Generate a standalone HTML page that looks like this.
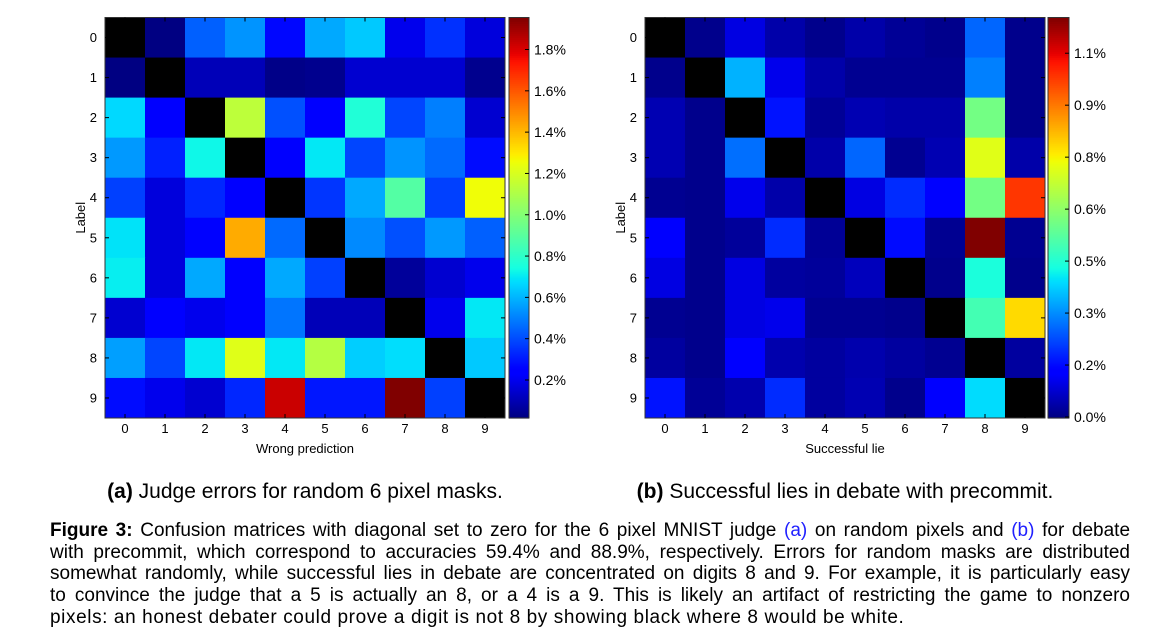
<!DOCTYPE html>
<html><head><meta charset="utf-8">
<style>
html,body{margin:0;padding:0;background:#fff;}
body{width:1158px;height:637px;overflow:hidden;position:relative;font-family:"Liberation Sans","DejaVu Sans",sans-serif;}
svg{position:absolute;left:0;top:0;}
#caption{position:absolute;left:50px;top:520px;width:1080px;font-size:19px;line-height:21.7px;color:#000;}
#caption .ln{white-space:nowrap;text-align:justify;text-align-last:justify;}
#caption .last{text-align:left;text-align-last:left;letter-spacing:0.6px;}
</style></head>
<body>
<svg id="fig" width="1158" height="637"></svg>
<div id="caption">
<div class="ln"><b>Figure 3:</b> Confusion matrices with diagonal set to zero for the 6 pixel MNIST judge <span style="color:#2020ff">(a)</span> on random pixels and <span style="color:#2020ff">(b)</span> for debate</div>
<div class="ln">with precommit, which correspond to accuracies 59.4% and 88.9%, respectively. Errors for random masks are distributed</div>
<div class="ln">somewhat randomly, while successful lies in debate are concentrated on digits 8 and 9. For example, it is particularly easy</div>
<div class="ln">to convince the judge that a 5 is actually an 8, or a 4 is a 9. This is likely an artifact of restricting the game to nonzero</div>
<div class="ln last">pixels: an honest debater could prove a digit is not 8 by showing black where 8 would be white.</div>
</div>
<script>
const digits = ['0','1','2','3','4','5','6','7','8','9'];
const errorsA = [
 [null,0.02,0.44,0.54,0.27,0.58,0.64,0.20,0.35,0.17],
 [0.02,null,0.11,0.11,0.03,0.04,0.15,0.15,0.15,0.04],
 [0.67,0.24,null,1.14,0.41,0.24,0.77,0.39,0.50,0.15],
 [0.55,0.32,0.73,null,0.24,0.70,0.39,0.54,0.46,0.28],
 [0.38,0.17,0.33,0.24,null,0.36,0.58,0.89,0.38,1.26],
 [0.69,0.17,0.26,1.43,0.46,null,0.52,0.41,0.55,0.44],
 [0.71,0.17,0.58,0.24,0.58,0.38,null,0.06,0.15,0.20],
 [0.15,0.24,0.20,0.25,0.48,0.11,0.11,null,0.20,0.70],
 [0.56,0.39,0.70,1.22,0.70,1.12,0.65,0.68,null,0.64],
 [0.28,0.20,0.15,0.33,1.83,0.30,0.30,1.955,0.38,null]
];
const liesB = [
 [null,0.01,0.10,0.04,0.01,0.04,0.02,0.01,0.27,0.01],
 [0.01,null,0.36,0.11,0.04,0.015,0.015,0.015,0.30,0.01],
 [0.05,0.01,null,0.17,0.02,0.05,0.04,0.04,0.59,0.01],
 [0.05,0.01,0.28,null,0.04,0.27,0.015,0.05,0.75,0.04],
 [0.015,0.01,0.11,0.04,null,0.10,0.20,0.15,0.59,1.03],
 [0.14,0.01,0.025,0.20,0.02,null,0.16,0.015,1.208,0.015],
 [0.10,0.01,0.10,0.03,0.025,0.06,null,0.01,0.46,0.01],
 [0.015,0.01,0.10,0.11,0.015,0.015,0.01,null,0.52,0.82],
 [0.03,0.01,0.14,0.045,0.03,0.045,0.03,0.015,null,0.03],
 [0.17,0.02,0.045,0.20,0.03,0.05,0.01,0.13,0.41,null]
];
const ticksA = [0.2,0.4,0.6,0.8,1.0,1.2,1.4,1.6,1.8];
const ticksALabels = ['0.2%','0.4%','0.6%','0.8%','1.0%','1.2%','1.4%','1.6%','1.8%'];
const ticksB = [0,1.1/7,2.2/7,3.3/7,4.4/7,5.5/7,6.6/7,1.1];
const ticksBLabels = ['0.0%','0.2%','0.3%','0.5%','0.6%','0.8%','0.9%','1.1%'];

const NS='http://www.w3.org/2000/svg';
const svg=document.getElementById('fig');
function mk(tag,attrs,parent){const e=document.createElementNS(NS,tag);for(const k in attrs)e.setAttribute(k,attrs[k]);(parent||svg).appendChild(e);return e;}
function interp(pts,t){for(let i=1;i<pts.length;i++){if(t<=pts[i][0]){const a=pts[i-1],b=pts[i];return a[1]+(b[1]-a[1])*(t-a[0])/(b[0]-a[0]);}}return pts[pts.length-1][1];}
function jet(t){t=Math.max(0,Math.min(1,t));
 const r=interp([[0,0],[0.35,0],[0.66,1],[0.89,1],[1,0.5]],t);
 const g=interp([[0,0],[0.125,0],[0.375,1],[0.64,1],[0.91,0],[1,0]],t);
 const b=interp([[0,0.5],[0.11,1],[0.34,1],[0.65,0],[1,0]],t);
 return `rgb(${Math.round(r*255)},${Math.round(g*255)},${Math.round(b*255)})`;}

function panel(o){
 const {x0,y0,w,h,data,vmin,vmax,cbx,cbw,ticks,tlabels,xlabel,title,key}=o;
 const cw=w/10,ch=h/10;
 const xs=i=>x0+i*cw, ys=j=>y0+j*ch;
 const g=mk('g',{});
 
 
 for(let r=0;r<10;r++)for(let c=0;c<10;c++){
  const v=data[r][c];
  const fill=v===null?'#000':jet((v-vmin)/(vmax-vmin));
  const rc=mk('rect',{x:xs(c),y:ys(r),width:cw+0.5,height:ch+0.5,fill:fill},g);
  
  
 }
 mk('rect',{x:x0,y:y0,width:w,height:h,fill:'none',stroke:'#333','stroke-width':1},g);
 for(let i=0;i<10;i++){
  const cx=xs(i)+cw/2, cy=ys(i)+ch/2;
  mk('line',{x1:cx,y1:y0,x2:cx,y2:y0+4,stroke:'#000'},g);
  mk('line',{x1:cx,y1:y0+h,x2:cx,y2:y0+h-4,stroke:'#000'},g);
  mk('line',{x1:x0,y1:cy,x2:x0+4,y2:cy,stroke:'#000'},g);
  mk('line',{x1:x0+w,y1:cy,x2:x0+w-4,y2:cy,stroke:'#000'},g);
  const tx=mk('text',{x:cx,y:y0+h+15,'font-size':13,'text-anchor':'middle'},g);tx.textContent=digits[i];
  
  
  const ty=mk('text',{x:x0-8,y:cy+4.5,'font-size':13,'text-anchor':'end'},g);ty.textContent=digits[i];
  
  
 }
 const xl=mk('text',{x:x0+w/2,y:y0+h+35,'font-size':13,'text-anchor':'middle'});xl.textContent=xlabel;
 
 
 const yl=mk('text',{x:0,y:0,'font-size':13,'text-anchor':'middle',transform:`translate(${x0-20},${y0+h/2}) rotate(-90)`});yl.textContent='Label';
 
 
 const cb=mk('g',{});
 
 
 const steps=200;
 for(let s=0;s<steps;s++){
  const t=s/steps;
  mk('rect',{x:cbx,y:y0+h-(s+1)*h/steps,width:cbw,height:h/steps+0.6,fill:jet(t+0.5/steps)},cb);
 }
 mk('rect',{x:cbx,y:y0,width:cbw,height:h,fill:'none',stroke:'#333'},cb);
 const cy=v=>y0+h-(v-vmin)/(vmax-vmin)*h;
 ticks.forEach((v,i)=>{
  const yy=cy(v);
  mk('line',{x1:cbx+cbw-4,y1:yy,x2:cbx+cbw,y2:yy,stroke:'#000'},cb);
  const t=mk('text',{x:cbx+cbw+5,y:yy+5,'font-size':14},cb);t.textContent=tlabels[i];
  
  
 });
 const ti=mk('text',{x:x0+w/2,y:498,'font-size':21,'text-anchor':'middle'});
 
 
 const bt=mk('tspan',{'font-weight':'bold'},ti);bt.textContent=title[0];
 const rt=mk('tspan',{},ti);rt.textContent=title[1];
}
panel({x0:105,y0:17.5,w:400,h:400.5,data:errorsA,vmin:0.016,vmax:1.955,cbx:509,cbw:20,ticks:ticksA,tlabels:ticksALabels,xlabel:'Wrong prediction',title:['(a)',' Judge errors for random 6 pixel masks.'],key:'judge-errors'});
panel({x0:645,y0:17.5,w:400,h:400.5,data:liesB,vmin:-0.003,vmax:1.208,cbx:1048,cbw:21,ticks:ticksB,tlabels:ticksBLabels,xlabel:'Successful lie',title:['(b)',' Successful lies in debate with precommit.'],key:'successful-lies'});
</script>
</body></html>
